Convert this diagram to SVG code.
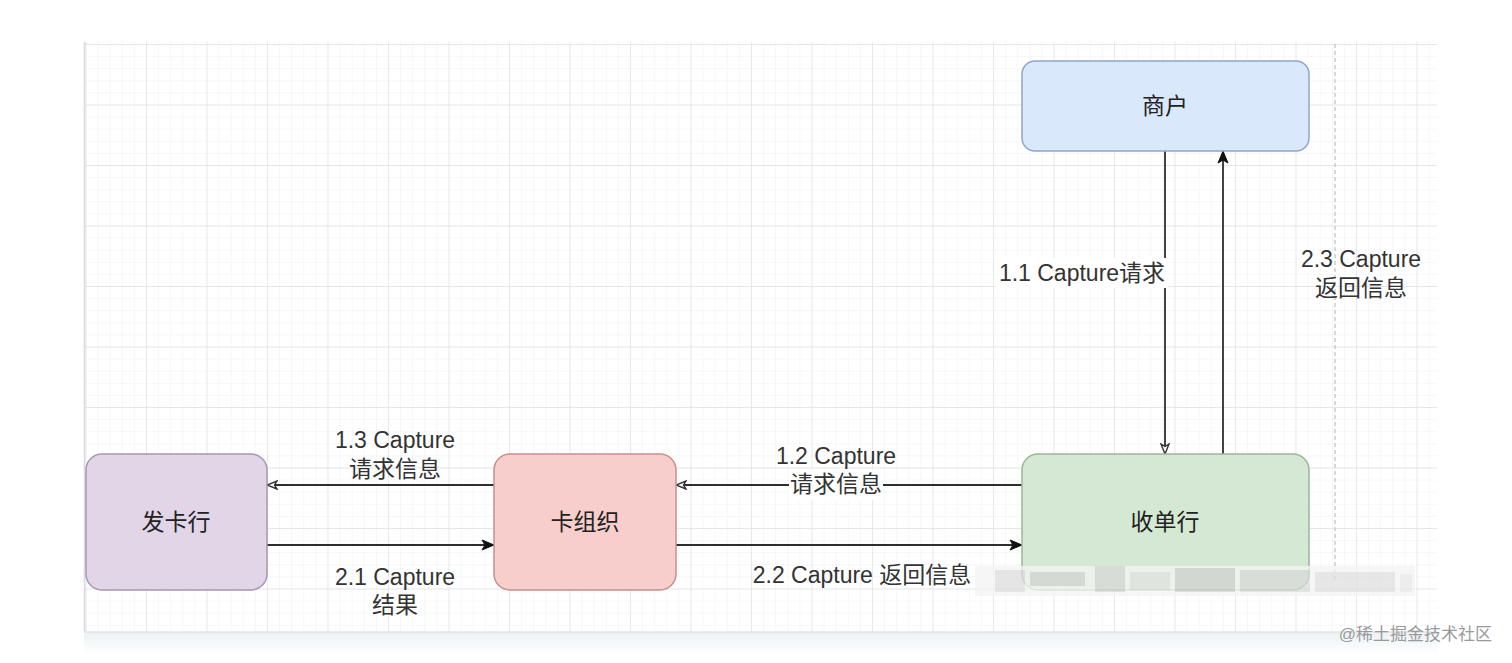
<svg xmlns="http://www.w3.org/2000/svg" width="1512" height="663" viewBox="0 0 1512 663">
<defs>
  <pattern id="minor" x="85.5" y="44" width="12.1" height="12.1" patternUnits="userSpaceOnUse">
    <path d="M0 0 H12.1 M0 0 V12.1" fill="none" stroke="#eff0f2" stroke-width="1"/>
  </pattern>
  <pattern id="major" x="85.5" y="44" width="60.5" height="60.5" patternUnits="userSpaceOnUse">
    <path d="M0 0 H60.5 M0 0 V60.5" fill="none" stroke="#dfe2e5" stroke-width="1.3"/>
  </pattern>
  <linearGradient id="shadow" x1="0" y1="0" x2="0" y2="1">
    <stop offset="0" stop-color="#eef1f3"/>
    <stop offset="1" stop-color="#ffffff"/>
  </linearGradient>
  <marker id="open" viewBox="0 0 12 10" refX="11" refY="5" markerWidth="12" markerHeight="10" markerUnits="userSpaceOnUse" orient="auto">
    <path d="M1 1 L11 5 L1 9 L3.5 5 Z" fill="#ffffff" stroke="#333333" stroke-width="1.4"/>
  </marker>
  <marker id="filled" viewBox="0 0 14 12" refX="13" refY="6" markerWidth="14" markerHeight="12" markerUnits="userSpaceOnUse" orient="auto">
    <path d="M1 1 L13 6 L1 11 L4 6 Z" fill="#111111" stroke="#111111" stroke-width="1"/>
  </marker>
</defs>
<style>
  .node { stroke-width: 1.5; }
  .label { font-family: "Liberation Sans", "Noto Sans CJK SC", sans-serif; font-size: 23px; fill: #333333; text-anchor: middle; }
  .ntext { font-family: "Liberation Sans", "Noto Sans CJK SC", sans-serif; font-size: 23px; fill: #222222; text-anchor: middle; dominant-baseline: central; }
  .edge { fill: none; stroke: #2e2e2e; stroke-width: 1.8; }
  .lblbg { fill: #ffffff; }
</style>
<rect width="1512" height="663" fill="#ffffff"/>
<!-- canvas -->
<g id="canvas">
  <rect x="84" y="632" width="1353" height="24" fill="url(#shadow)"/>
  <rect x="84" y="42" width="1353" height="590" fill="#ffffff"/>
  <rect x="84" y="42" width="1353" height="590" fill="url(#minor)"/>
  <rect x="84" y="42" width="1353" height="590" fill="url(#major)"/>
  <line x1="84.5" y1="42" x2="84.5" y2="632" stroke="#d8dbdf" stroke-width="1.6"/>
  <line x1="84" y1="632" x2="1437" y2="632" stroke="#e0e3e6" stroke-width="1.6"/>
  <line x1="1335" y1="44" x2="1335" y2="582" stroke="#c4c4c4" stroke-width="1.3" stroke-dasharray="4 3"/>
</g>
<!-- connectors -->
<g id="connectors">
  <line class="edge" x1="1165" y1="151" x2="1165" y2="454" marker-end="url(#open)"/>
  <line class="edge" x1="1223" y1="454" x2="1223" y2="151" stroke="#111111" marker-end="url(#filled)"/>
  <line class="edge" x1="1022" y1="485" x2="676" y2="485" marker-end="url(#open)"/>
  <line class="edge" x1="494" y1="485" x2="267" y2="485" marker-end="url(#open)"/>
  <line class="edge" x1="267" y1="545" x2="494" y2="545" marker-end="url(#filled)"/>
  <line class="edge" x1="676" y1="545" x2="1022" y2="545" marker-end="url(#filled)"/>
  <!-- labels -->
  <rect class="lblbg" x="996" y="258" width="172" height="30"/>
  <text class="label" x="1082" y="281">1.1 Capture请求</text>
  <text class="label" x="1361" y="267">2.3 Capture</text>
  <text class="label" x="1361" y="296">返回信息</text>
  <rect class="lblbg" x="789" y="470" width="94" height="30"/>
  <text class="label" x="836" y="464">1.2 Capture</text>
  <text class="label" x="836" y="492">请求信息</text>
  <text class="label" x="395" y="448">1.3 Capture</text>
  <text class="label" x="395" y="477">请求信息</text>
  <text class="label" x="395" y="585">2.1 Capture</text>
  <text class="label" x="395" y="613">结果</text>
  <text class="label" x="862" y="583">2.2 Capture 返回信息</text>
</g>
<!-- nodes -->
<g id="merchant">
  <rect class="node" x="1022" y="61" width="287" height="90" rx="13" fill="#dae8fc" stroke="#8fa6c8"/>
  <text class="ntext" x="1165" y="106">商户</text>
</g>
<g id="acquirer">
  <rect class="node" x="1022" y="454" width="287" height="136" rx="16" fill="#d5e8d4" stroke="#98b894"/>
  <text class="ntext" x="1165" y="522">收单行</text>
</g>
<g id="issuer">
  <rect class="node" x="86" y="454" width="181" height="136" rx="16" fill="#e1d5e7" stroke="#a797b3"/>
  <text class="ntext" x="176" y="522">发卡行</text>
</g>
<g id="network">
  <rect class="node" x="494" y="454" width="182" height="136" rx="16" fill="#f8cecc" stroke="#c98f8c"/>
  <text class="ntext" x="585" y="522">卡组织</text>
</g>
<!-- blurred mosaic -->
<g id="mosaic" opacity="0.75">
  <rect x="975" y="566" width="440" height="30" fill="#f4f4f4"/>
  <rect x="995" y="570" width="30" height="22" fill="#dddddd"/>
  <rect x="1030" y="572" width="55" height="14" fill="#d5d5d5"/>
  <rect x="1095" y="566" width="30" height="26" fill="#d8d8d8"/>
  <rect x="1130" y="572" width="40" height="18" fill="#e3e3e3"/>
  <rect x="1175" y="568" width="60" height="24" fill="#d2d2d2"/>
  <rect x="1240" y="570" width="70" height="22" fill="#dadada"/>
  <rect x="1315" y="572" width="80" height="20" fill="#dfdfdf"/>
  <rect x="1400" y="574" width="12" height="18" fill="#e8e8e8"/>
</g>
<text x="1492" y="640" font-family="Liberation Sans, Noto Sans CJK SC, sans-serif" font-size="17" fill="#9a9a9a" text-anchor="end">@稀土掘金技术社区</text>
</svg>
